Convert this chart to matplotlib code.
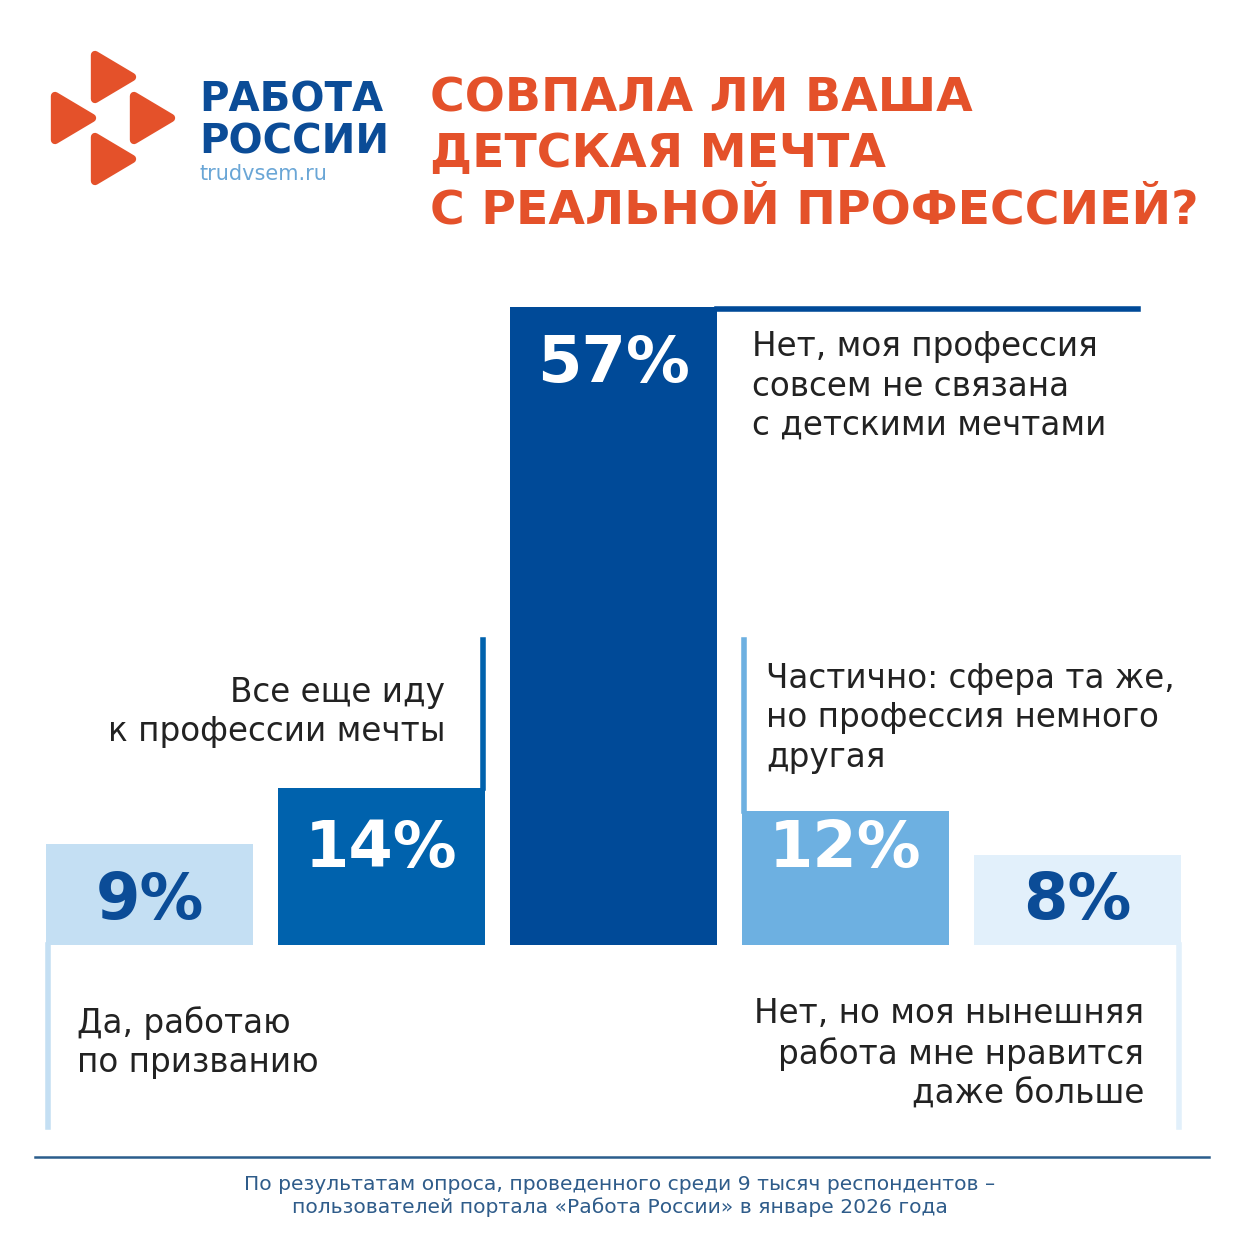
"""
    Survey infographic: did your childhood dream match your real profession?
"""

import matplotlib.pyplot as plt
from matplotlib.patches import Polygon

# data
answers = [
    "Да, работаю\nпо призванию",
    "Все еще иду\nк профессии мечты",
    "Нет, моя профессия\nсовсем не связана\nс детскими мечтами",
    "Частично: сфера та же,\nно профессия немного\nдругая",
    "Нет, но моя нынешняя\nработа мне нравится\nдаже больше",
]
shares = [9, 14, 57, 12, 8]
bar_colors = ["#c4dff3", "#0062ad", "#004a98", "#6db0e1", "#e2f0fb"]
pct_colors = ["#0b4c97", "white", "white", "white", "#0b4c97"]

title_lines = ["СОВПАЛА ЛИ ВАША", "ДЕТСКАЯ МЕЧТА", "С РЕАЛЬНОЙ ПРОФЕССИЕЙ?"]
footer = ("По результатам опроса, проведенного среди 9 тысяч респондентов –\n"
          "пользователей портала «Работа России» в январе 2026 года")

W = 1241
BASE_PX = 945                       # bar baseline in pixels
PX_PER_PCT = (945 - 307) / 57       # pixel height of one percent
X0_PX, STEP_PX = 149.5, 232         # centre of first bar, spacing


def to_x(x_px):
    """ pixel x -> bar axes x """
    return (x_px - X0_PX) / STEP_PX


def to_y(y_px):
    """ pixel y -> bar axes y (percent) """
    return (BASE_PX - y_px) / PX_PER_PCT


fig = plt.figure(figsize=(12.41, 12.41), dpi=100)
fig.patch.set_facecolor("white")

# decoration layer in pixel coordinates
deco = fig.add_axes([0, 0, 1, 1])
deco.set_xlim(0, W)
deco.set_ylim(W, 0)
deco.axis("off")

orange = "#e4512a"
for dx, dy in [(95, 55), (55, 96), (134, 96), (95, 137)]:
    tri = Polygon([(dx, dy), (dx, dy + 44), (dx + 37, dy + 22)],
                  closed=True, facecolor=orange, edgecolor=orange,
                  linewidth=6, joinstyle="round")
    deco.add_patch(tri)

deco.text(199, 112, "РАБОТА", fontsize=29, fontweight="bold",
          color="#0b4c97", family="DejaVu Sans")
deco.text(199, 154, "РОССИИ", fontsize=29, fontweight="bold",
          color="#0b4c97", family="DejaVu Sans")
deco.text(200, 180, "trudvsem.ru", fontsize=15, color="#6aa6d6",
          family="DejaVu Sans")

for i, line in enumerate(title_lines):
    deco.text(430, 111 + i * 56, line, fontsize=34, fontweight="bold",
              color=orange, family="DejaVu Sans")

deco.plot([35, 1209], [1157, 1157], color="#2b5d8c", linewidth=1.8)
deco.text(620, 1196, footer, fontsize=14.6, color="#2f5c8a", ha="center",
          va="center", linespacing=1.25, family="DejaVu Sans Condensed")

# bar layer
ax = fig.add_axes([0, 0, 1, 1])
ax.patch.set_alpha(0)
ax.set_xlim(to_x(0), to_x(W))
ax.set_ylim(to_y(W), to_y(0))
ax.axis("off")

x = list(range(len(shares)))
width = 207 / STEP_PX
ax.bar(x, shares, width=width, color=bar_colors, zorder=2)

half = width / 2
up_end, down_end = to_y(640), to_y(1127)
lw = 4
# connector lines
ax.plot([x[0] - half + 0.01] * 2, [0, down_end], color=bar_colors[0], lw=lw)
ax.plot([x[1] + half - 0.01] * 2, [shares[1], up_end], color=bar_colors[1], lw=lw)
ax.plot([x[2] + half, to_x(1138)], [shares[2] - 0.2] * 2,
        color=bar_colors[2], lw=lw)
ax.plot([x[3] - half + 0.01] * 2, [shares[3], up_end], color=bar_colors[3], lw=lw)
ax.plot([x[4] + half - 0.01] * 2, [0, down_end], color=bar_colors[4], lw=lw)

# percentage labels
pct_y = [to_y(901), to_y(849), to_y(364), to_y(849), to_y(901)]
for xi, val, yy, col in zip(x, shares, pct_y, pct_colors):
    ax.text(xi, yy, f"{val}%", fontsize=46, fontweight="bold", color=col,
            ha="center", va="center", family="DejaVu Sans", zorder=3)

# answer labels
lab_kw = dict(fontsize=23.5, color="#222222", family="DejaVu Sans",
              linespacing=1.25, va="top")
ax.text(to_x(77), to_y(1006), answers[0], ha="left", **lab_kw)
ax.text(to_x(445), to_y(676), answers[1], ha="right", **lab_kw)
ax.text(to_x(752), to_y(330), answers[2], ha="left", **lab_kw)
ax.text(to_x(766), to_y(662), answers[3], ha="left", **lab_kw)
ax.text(to_x(1144), to_y(997), answers[4], ha="right", **lab_kw)

fig.savefig("out.png", dpi=100, facecolor="white")
